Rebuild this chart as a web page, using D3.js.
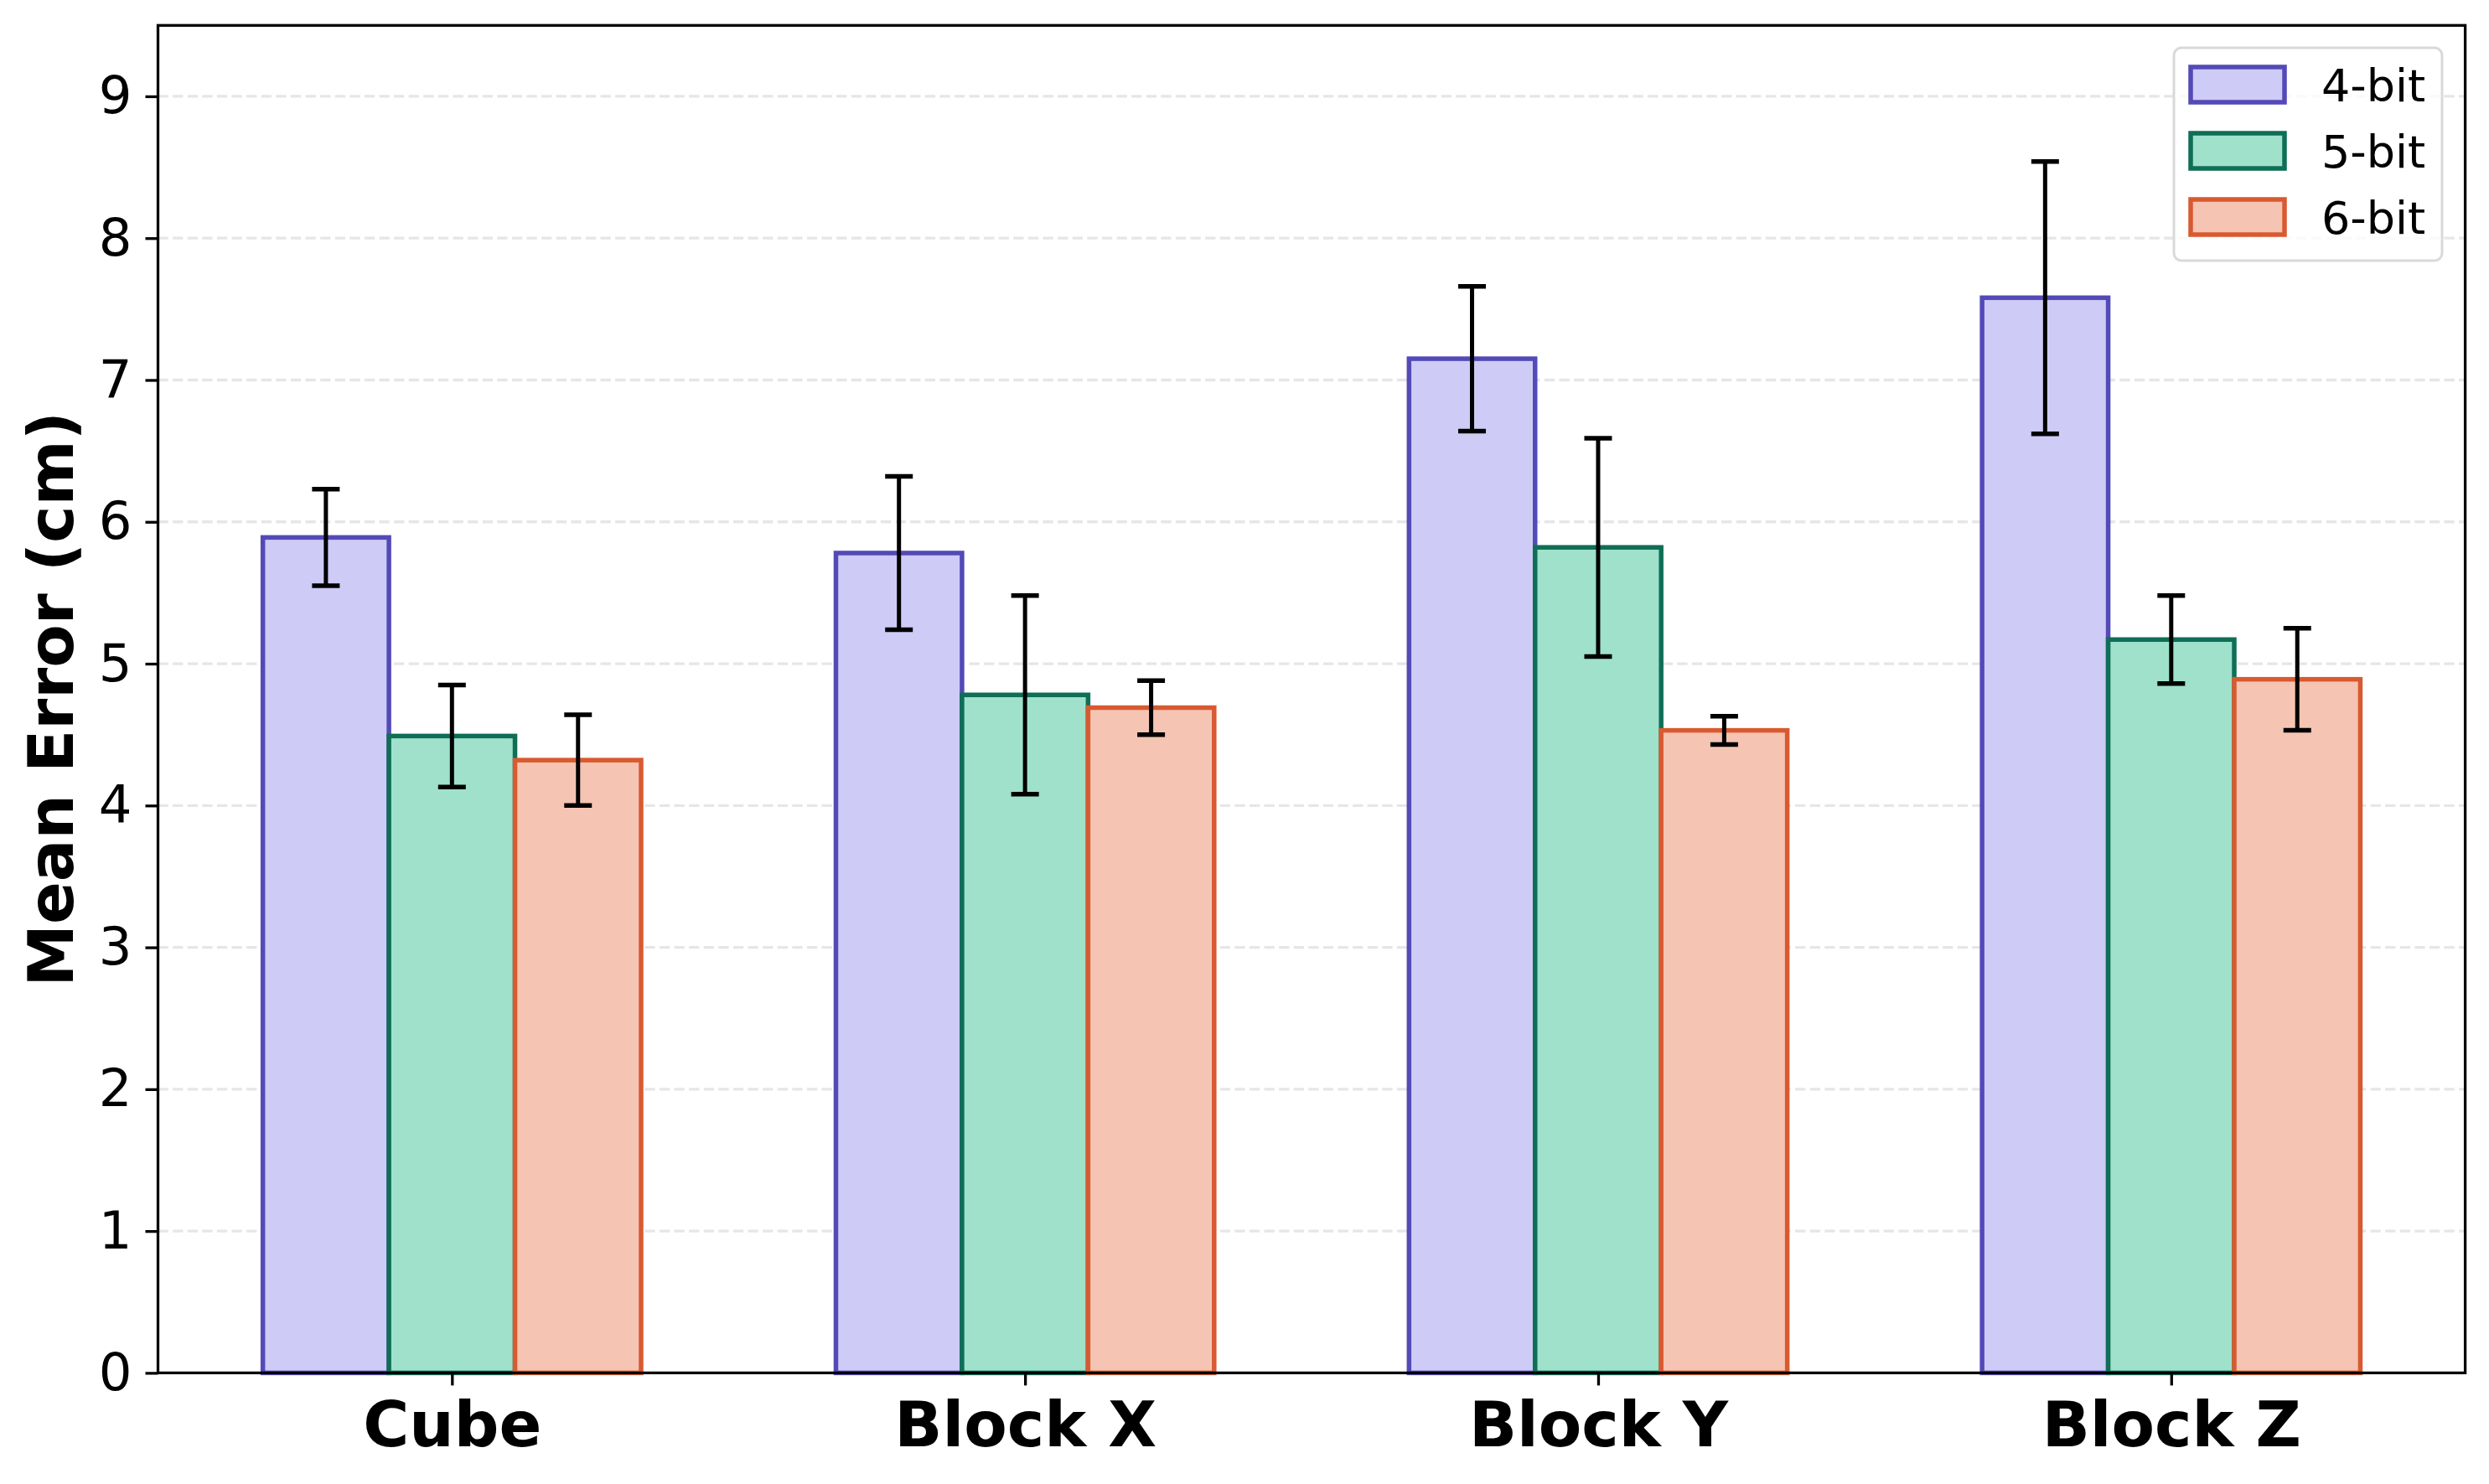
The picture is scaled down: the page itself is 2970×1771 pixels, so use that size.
<!DOCTYPE html>
<html>
<head>
<meta charset="utf-8">
<script src="https://cdn.jsdelivr.net/npm/d3@7"></script>
<style>
  body { margin: 0; background: #fff; }
  svg { display: block; }
  svg text { font-family: "DejaVu Sans", sans-serif; }
</style>
</head>
<body>
<div id="chart"></div>
<script>
// Values
const categories = ["Cube", "Block X", "Block Y", "Block Z"];
const seriesNames = ["4-bit", "5-bit", "6-bit"];
const means4bit = [5.89, 5.78, 7.15, 7.58];
const means5bit = [4.49, 4.78, 5.82, 5.17];
const means6bit = [4.32, 4.69, 4.53, 4.89];
const err4bit = [0.34, 0.54, 0.51, 0.96];
const err5bit = [0.36, 0.70, 0.77, 0.31];
const err6bit = [0.32, 0.19, 0.10, 0.36];
const yTicks = [0, 1, 2, 3, 4, 5, 6, 7, 8, 9];
const yMax = 9.5;
const yLabel = "Mean Error (cm)";

class GroupedBarChart {

  constructor(_config) {
    this.config = {
      parentElement: _config.parentElement,
      containerWidth: 2970,
      containerHeight: 1771,
      margin: {top: 30.3, right: 28.4, bottom: 132.6, left: 188.5},
      fills: ["#CECBF6", "#9FE1CB", "#F5C4B3"],
      strokes: ["#534AB7", "#0F6E56", "#D85A30"],
      barWidth: 0.22,   // in category-step units
      xPadding: 0.513
    };
    this.initVis();
  }

  initVis() {
    let vis = this;
    const cfg = vis.config;

    vis.width = cfg.containerWidth - cfg.margin.left - cfg.margin.right;
    vis.height = cfg.containerHeight - cfg.margin.top - cfg.margin.bottom;

    vis.svg = d3.select(cfg.parentElement).append("svg")
        .attr("width", cfg.containerWidth)
        .attr("height", cfg.containerHeight);

    vis.chart = vis.svg.append("g")
        .attr("transform", `translate(${cfg.margin.left},${cfg.margin.top})`);

    vis.xScale = d3.scalePoint()
        .domain(categories)
        .range([0, vis.width])
        .padding(cfg.xPadding);

    const step = vis.xScale.step();
    vis.seriesScale = d3.scaleBand()
        .domain(seriesNames)
        .range([-1.5 * cfg.barWidth * step, 1.5 * cfg.barWidth * step]);

    vis.yScale = d3.scaleLinear()
        .domain([0, yMax])
        .range([vis.height, 0]);

    vis.data = [
      {name: seriesNames[0], means: means4bit, errs: err4bit},
      {name: seriesNames[1], means: means5bit, errs: err5bit},
      {name: seriesNames[2], means: means6bit, errs: err6bit}
    ];

    vis.renderGrid();
    vis.renderBars();
    vis.renderAxes();
    vis.renderLegend();
  }

  renderGrid() {
    let vis = this;

    vis.chart.append("g")
        .attr("class", "grid")
      .selectAll("line")
        .data(yTicks.filter(d => d > 0))
      .join("line")
        .attr("x1", 0)
        .attr("x2", vis.width)
        .attr("y1", d => vis.yScale(d))
        .attr("y2", d => vis.yScale(d))
        .attr("stroke", "#e6e6e6")
        .attr("stroke-width", 3.3)
        .attr("stroke-dasharray", "12.3,5.3");
  }

  renderBars() {
    let vis = this;
    const cfg = vis.config;

    const groups = vis.chart.selectAll(".series")
        .data(vis.data)
      .join("g")
        .attr("class", "series");

    groups.each(function(s, si) {
      const g = d3.select(this);
      const rows = categories.map((c, i) => ({cat: c, mean: s.means[i], err: s.errs[i]}));

      g.selectAll("rect")
          .data(rows)
        .join("rect")
          .attr("x", d => vis.xScale(d.cat) + vis.seriesScale(s.name))
          .attr("y", d => vis.yScale(d.mean))
          .attr("width", vis.seriesScale.bandwidth())
          .attr("height", d => vis.yScale(0) - vis.yScale(d.mean))
          .attr("fill", cfg.fills[si])
          .attr("stroke", cfg.strokes[si])
          .attr("stroke-width", 5.5);
    });

    // error bars drawn on top of every bar
    const errG = vis.chart.append("g").attr("class", "errors");
    vis.data.forEach(s => {
      categories.forEach((c, i) => {
        const cx = vis.xScale(c) + vis.seriesScale(s.name) + vis.seriesScale.bandwidth() / 2;
        const lo = vis.yScale(s.means[i] - s.errs[i]);
        const hi = vis.yScale(s.means[i] + s.errs[i]);
        errG.append("line")
            .attr("x1", cx).attr("x2", cx)
            .attr("y1", lo).attr("y2", hi)
            .attr("stroke", "#000")
            .attr("stroke-width", 5);
        [lo, hi].forEach(yv => {
          errG.append("line")
              .attr("x1", cx - 16.5).attr("x2", cx + 16.5)
              .attr("y1", yv).attr("y2", yv)
              .attr("stroke", "#000")
              .attr("stroke-width", 5.5);
        });
      });
    });
  }

  renderAxes() {
    let vis = this;

    const yAxis = d3.axisLeft(vis.yScale)
        .tickValues(yTicks)
        .tickSize(15)
        .tickPadding(16)
        .tickFormat(d3.format("d"));

    const xAxis = d3.axisBottom(vis.xScale)
        .tickSize(15)
        .tickPadding(19);

    const yG = vis.chart.append("g")
        .attr("class", "axis y-axis")
        .call(yAxis);

    const xG = vis.chart.append("g")
        .attr("class", "axis x-axis")
        .attr("transform", `translate(0,${vis.height})`)
        .call(xAxis);

    // d3 puts font-family="sans-serif" on the axis group, override it
    [yG, xG].forEach(g => {
      g.attr("font-family", "DejaVu Sans");
      g.select(".domain").remove();
      g.selectAll(".tick line").attr("stroke", "#000").attr("stroke-width", 3.3);
      g.selectAll(".tick text").attr("fill", "#000");
    });

    yG.selectAll(".tick text")
        .style("font-size", "62.5px");

    xG.selectAll(".tick text")
        .style("font-size", "75px")
        .style("font-weight", "bold");

    // frame around the plot area
    vis.chart.append("rect")
        .attr("width", vis.width)
        .attr("height", vis.height)
        .attr("fill", "none")
        .attr("stroke", "#000")
        .attr("stroke-width", 3.3);

    vis.svg.append("text")
        .attr("transform", "rotate(-90)")
        .attr("x", -(vis.config.margin.top + vis.height / 2))
        .attr("y", 87)
        .attr("text-anchor", "middle")
        .style("font-size", "75px")
        .style("font-weight", "bold")
        .text(yLabel);
  }

  renderLegend() {
    let vis = this;
    const cfg = vis.config;

    const legend = vis.svg.append("g")
        .attr("class", "legend")
        .attr("transform", "translate(2594,57)");

    legend.append("rect")
        .attr("width", 320)
        .attr("height", 254)
        .attr("rx", 9)
        .attr("fill", "#fff")
        .attr("fill-opacity", 0.8)
        .attr("stroke", "#d9d9d9")
        .attr("stroke-width", 3);

    const items = legend.selectAll(".item")
        .data(seriesNames)
      .join("g")
        .attr("class", "item")
        .attr("transform", (d, i) => `translate(0,${i * 79})`);

    items.append("rect")
        .attr("x", 20)
        .attr("y", 23)
        .attr("width", 112)
        .attr("height", 42)
        .attr("fill", (d, i) => cfg.fills[i])
        .attr("stroke", (d, i) => cfg.strokes[i])
        .attr("stroke-width", 5.5);

    items.append("text")
        .attr("x", 176)
        .attr("y", 64)
        .style("font-size", "54px")
        .attr("fill", "#000")
        .text(d => d);
  }
}

new GroupedBarChart({parentElement: "#chart"});
</script>
</body>
</html>
